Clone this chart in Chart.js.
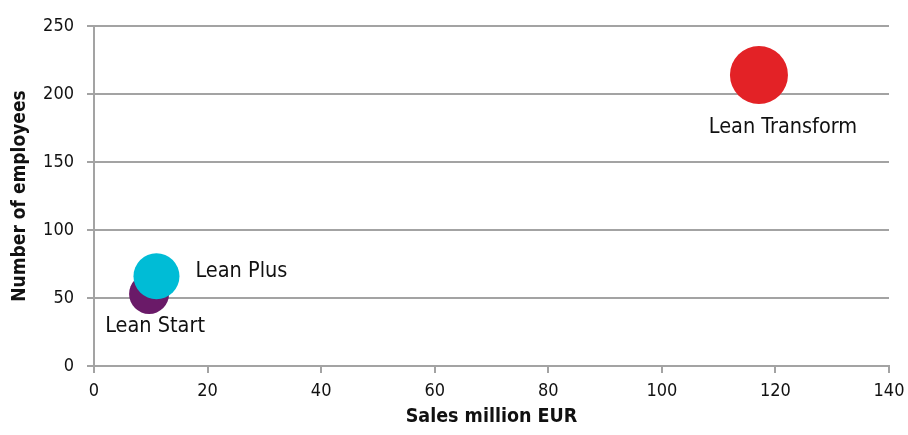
<!DOCTYPE html>
<html>
<head>
<meta charset="utf-8">
<script src="https://cdn.jsdelivr.net/npm/chart.js@4"></script>
<style>
  html, body { margin: 0; padding: 0; background: #ffffff; }
  #wrap { width: 908px; height: 435px; position: relative; }
</style>
</head>
<body>
<div id="wrap"><canvas id="chart"></canvas></div>
<script>
// Product packages positioned by company size
const products = ['Lean Transform', 'Lean Plus', 'Lean Start'];
const salesMillionEur = [117.1, 11.0, 9.7];
const employeeCounts = [214, 66, 53];

const xTicks = [0, 20, 40, 60, 80, 100, 120, 140];
const yTicks = [0, 50, 100, 150, 200, 250];

// Appearance per product: fill colour, bubble radius and label placement
const look = {
  'Lean Transform': { color: '#e32226', radius: 29, dx: 24, dy: 52, align: 'center' },
  'Lean Plus':      { color: '#00bcd6', radius: 23, dx: 39, dy: -5, align: 'left' },
  'Lean Start':     { color: '#6a1a68', radius: 20, dx: 6,  dy: 33, align: 'center' }
};

const gridColor = '#a3a3a3';
const FONT = "'DejaVu Sans Condensed', 'DejaVu Sans', Verdana, sans-serif";

const datasets = products.map((name, i) => ({
  label: name,
  data: [{ x: salesMillionEur[i], y: employeeCounts[i] }],
  backgroundColor: look[name].color,
  borderColor: look[name].color,
  borderWidth: 0,
  radius: look[name].radius,
  hoverRadius: 0
}));

// Writes each product's name beside its bubble
const bubbleLabels = {
  id: 'bubbleLabels',
  afterDatasetsDraw(chart) {
    const ctx = chart.ctx;
    ctx.save();
    ctx.font = "21.5px " + FONT;
    ctx.fillStyle = '#111111';
    ctx.textBaseline = 'middle';
    chart.data.datasets.forEach((ds, i) => {
      const el = chart.getDatasetMeta(i).data[0];
      const s = look[ds.label];
      ctx.textAlign = s.align;
      ctx.fillText(ds.label, el.x + s.dx, el.y + s.dy);
    });
    ctx.restore();
  }
};

new Chart(document.getElementById('chart'), {
  type: 'bubble',
  data: { datasets },
  plugins: [bubbleLabels],
  options: {
    responsive: true,
    maintainAspectRatio: false,
    animation: false,
    events: [],
    layout: { autoPadding: false, padding: { top: 26, right: 19, left: 0, bottom: 0 } },
    plugins: {
      legend: { display: false },
      tooltip: { enabled: false }
    },
    scales: {
      x: {
        type: 'linear',
        min: xTicks[0],
        max: xTicks[xTicks.length - 1],
        afterBuildTicks: (scale) => { scale.ticks = xTicks.map(v => ({ value: v })); },
        afterFit: (scale) => {
          scale.height = 69;
          scale.paddingLeft = 0;
          scale.paddingRight = 0;
        },
        grid: {
          drawOnChartArea: false,
          drawTicks: true,
          tickLength: 7,
          color: gridColor,
          lineWidth: 2
        },
        border: { display: true, color: gridColor, width: 2 },
        ticks: {
          color: '#111111',
          font: { family: FONT, size: 18 },
          padding: 8,
          maxRotation: 0
        },
        title: {
          display: true,
          text: 'Sales million EUR',
          color: '#111111',
          font: { family: FONT, size: 19.5, weight: 'bold' },
          padding: { top: 0, bottom: 6 }
        }
      },
      y: {
        type: 'linear',
        min: yTicks[0],
        max: yTicks[yTicks.length - 1],
        afterBuildTicks: (scale) => { scale.ticks = yTicks.map(v => ({ value: v })); },
        afterFit: (scale) => {
          scale.width = 94;
          scale.paddingTop = 0;
          scale.paddingBottom = 0;
        },
        grid: {
          drawOnChartArea: true,
          drawTicks: true,
          tickLength: 7,
          color: gridColor,
          lineWidth: 2
        },
        border: { display: true, color: gridColor, width: 2 },
        ticks: {
          color: '#111111',
          font: { family: FONT, size: 18 },
          padding: 13
        },
        title: {
          display: true,
          text: 'Number of employees',
          color: '#111111',
          font: { family: FONT, size: 19, weight: 'bold' },
          padding: { top: 9, bottom: 0 }
        }
      }
    }
  }
});
</script>
</body>
</html>
